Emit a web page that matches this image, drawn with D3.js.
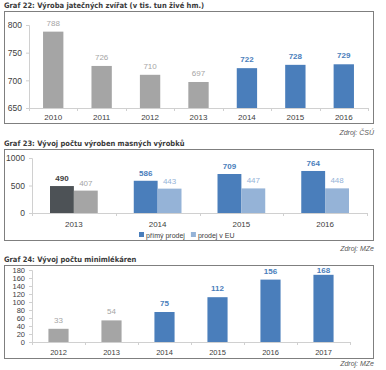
<!DOCTYPE html>
<html>
<head>
<meta charset="utf-8">
<script src="https://cdn.jsdelivr.net/npm/d3@7"></script>
<style>
  body { margin: 0; background: #fff; }
  svg { display: block; }
  .tick-label { font-family: "Liberation Sans", Arial, sans-serif; fill: #404040; }
  .title { font-family: "Liberation Sans Narrow", "DejaVu Sans Condensed", "Roboto", sans-serif; font-weight: bold; fill: #3a3a3a; }
  .source { font-family: "Liberation Sans", Arial, sans-serif; font-style: italic; fill: #595959; }
</style>
</head>
<body>
<svg id="chart" width="386" height="370"></svg>
<script>
// Graf 22 data
const years22 = ['2010', '2011', '2012', '2013', '2014', '2015', '2016'];
const values22 = [788, 726, 710, 697, 722, 728, 729];
const ticks22 = [650, 700, 750, 800];

// Graf 23 data
const years23 = ['2013', '2014', '2015', '2016'];
const direct23 = [490, 586, 709, 764];
const eu23 = [407, 443, 447, 448];
const ticks23 = [0, 500, 1000];
const legend23 = ['přímý prodej', 'prodej v EU'];

// Graf 24 data
const years24 = ['2012', '2013', '2014', '2015', '2016', '2017'];
const values24 = [33, 54, 75, 112, 156, 168];
const ticks24 = [0, 20, 40, 60, 80, 100, 120, 140, 160, 180];

const GRAY = '#a5a5a5';
const DARK = '#4d5256';
const BLUE = '#4a7ebb';
const LIGHT = '#95b3d7';
const AXIS = '#d0d0d0';

const svg = d3.select('#chart');

// Shared frame: title, box, source
function drawFrame(title, titleY, boxTop, boxBottom, source, sourceY) {
    svg.append('text')
        .attr('class', 'title')
        .attr('x', 4)
        .attr('y', titleY)
        .style('font-size', '7.5px')
        .text(title);

    svg.append('rect')
        .attr('x', 4.5)
        .attr('y', boxTop + 0.5)
        .attr('width', 369)
        .attr('height', boxBottom - boxTop)
        .attr('fill', 'none')
        .attr('stroke', '#7f7f7f')
        .attr('stroke-width', 1);

    svg.append('text')
        .attr('class', 'source')
        .attr('x', 374)
        .attr('y', sourceY)
        .attr('text-anchor', 'end')
        .style('font-size', '7px')
        .text(source);
}

// Light grey axes like Excel
function drawAxes(xScale, yScale, tickValues, fontY, fontX, labelY) {
    const [x0, x1] = xScale.range();
    const y0 = yScale.range()[0];

    const yAxis = svg.append('g')
        .attr('transform', `translate(${x0},0)`)
        .call(d3.axisLeft(yScale).tickValues(tickValues).tickFormat(d3.format('d')).tickSize(3).tickPadding(4));
    yAxis.select('.domain').attr('stroke', AXIS);
    yAxis.selectAll('.tick line').attr('stroke', AXIS);
    yAxis.selectAll('.tick text')
        .attr('class', 'tick-label')
        .style('font-size', fontY + 'px')
        .attr('font-family', null);

    // x axis line with ticks between categories
    svg.append('line')
        .attr('x1', x0).attr('x2', x1)
        .attr('y1', y0 + 0.5).attr('y2', y0 + 0.5)
        .attr('stroke', AXIS);
    const step = xScale.step();
    const bounds = d3.range(xScale.domain().length + 1).map(i => x0 + i * step);
    svg.selectAll(null)
        .data(bounds)
        .enter().append('line')
        .attr('x1', d => Math.round(d) + 0.5).attr('x2', d => Math.round(d) + 0.5)
        .attr('y1', y0).attr('y2', y0 + 3)
        .attr('stroke', AXIS);

    svg.selectAll(null)
        .data(xScale.domain())
        .enter().append('text')
        .attr('class', 'tick-label')
        .attr('x', d => xScale(d) + xScale.bandwidth() / 2)
        .attr('y', labelY)
        .attr('text-anchor', 'middle')
        .style('font-size', fontX + 'px')
        .text(d => d);
}

function valueLabel(x, y, text, color, bold) {
    svg.append('text')
        .attr('class', 'tick-label')
        .attr('x', x)
        .attr('y', y)
        .attr('text-anchor', 'middle')
        .style('font-size', '8px')
        .style('font-weight', bold ? 'bold' : 'normal')
        .style('fill', color)
        .text(text);
}

// Graf 22
function chart22() {
    drawFrame('Graf 22: Výroba jatečných zvířat (v tis. tun živé hm.)', 8, 11, 123, 'Zdroj: ČSÚ', 135);

    const x = d3.scaleBand().domain(years22).range([29, 368]).paddingInner(0.58).paddingOuter(0.29);
    const y = d3.scaleLinear().domain([650, 800]).range([108, 25]);
    const color = d => +d >= 2014 ? BLUE : GRAY;

    svg.append('g').selectAll('rect')
        .data(years22)
        .enter().append('rect')
        .attr('x', d => x(d))
        .attr('width', x.bandwidth())
        .attr('y', (d, i) => y(values22[i]))
        .attr('height', (d, i) => y(650) - y(values22[i]))
        .attr('fill', color);

    drawAxes(x, y, ticks22, 8.5, 8, 120);

    years22.forEach((d, i) => {
        const blue = +d >= 2014;
        valueLabel(x(d) + x.bandwidth() / 2, y(values22[i]) - 6, values22[i], blue ? BLUE : GRAY, blue);
    });
}

// Graf 23
function chart23() {
    drawFrame('Graf 23: Vývoj počtu výroben masných výrobků', 146, 149, 240, 'Zdroj: MZe', 251);

    const x0 = d3.scaleBand().domain(years23).range([32, 367]).paddingInner(0.43).paddingOuter(0.215);
    const x1 = d3.scaleBand().domain(['direct', 'eu']).range([0, x0.bandwidth()]);
    const y = d3.scaleLinear().domain([0, 1000]).range([213, 158]);

    const rows = years23.map((yr, i) => ({
        year: yr,
        items: [
            { key: 'direct', value: direct23[i], fill: i === 0 ? DARK : BLUE, label: i === 0 ? '#404040' : BLUE, bold: true },
            { key: 'eu', value: eu23[i], fill: i === 0 ? GRAY : LIGHT, label: i === 0 ? GRAY : LIGHT, bold: false }
        ]
    }));

    const groups = svg.append('g').selectAll('g')
        .data(rows)
        .enter().append('g')
        .attr('transform', d => `translate(${x0(d.year)},0)`);

    groups.selectAll('rect')
        .data(d => d.items)
        .enter().append('rect')
        .attr('x', d => x1(d.key))
        .attr('width', x1.bandwidth())
        .attr('y', d => y(d.value))
        .attr('height', d => y(0) - y(d.value))
        .attr('fill', d => d.fill);

    drawAxes(x0, y, ticks23, 8.5, 8, 227);

    rows.forEach(r => {
        r.items.forEach(it => {
            valueLabel(x0(r.year) + x1(it.key) + x1.bandwidth() / 2, y(it.value) - 5, it.value, it.label, it.bold);
        });
    });

    // Legend, laid out from the measured text widths
    const legend = svg.append('g');
    let cx = 0;
    legend23.forEach((name, i) => {
        legend.append('rect')
            .attr('x', cx).attr('y', 232)
            .attr('width', 5).attr('height', 5)
            .attr('fill', i === 0 ? BLUE : LIGHT);
        const t = legend.append('text')
            .attr('class', 'tick-label')
            .attr('x', cx + 7).attr('y', 237.5)
            .style('font-size', '7px')
            .text(name);
        cx += 7 + t.node().getComputedTextLength() + 6;
    });
    legend.attr('transform', `translate(${Math.round(187 - (cx - 6) / 2)},0)`);
}

// Graf 24
function chart24() {
    drawFrame('Graf 24: Vývoj počtu minimlékáren', 262, 265, 358, 'Zdroj: MZe', 366);

    const x = d3.scaleBand().domain(years24).range([32, 350]).paddingInner(0.62).paddingOuter(0.31);
    const y = d3.scaleLinear().domain([0, 180]).range([342, 270]);
    const color = d => +d >= 2014 ? BLUE : GRAY;

    svg.append('g').selectAll('rect')
        .data(years24)
        .enter().append('rect')
        .attr('x', d => x(d))
        .attr('width', x.bandwidth())
        .attr('y', (d, i) => y(values24[i]))
        .attr('height', (d, i) => y(0) - y(values24[i]))
        .attr('fill', color);

    drawAxes(x, y, ticks24, 7.5, 7.5, 355);

    years24.forEach((d, i) => {
        const blue = +d >= 2014;
        const ly = Math.max(y(values24[i]) - 6, 273);
        valueLabel(x(d) + x.bandwidth() / 2, ly, values24[i], blue ? BLUE : GRAY, blue);
    });
}

chart22();
chart23();
chart24();
</script>
</body>
</html>
